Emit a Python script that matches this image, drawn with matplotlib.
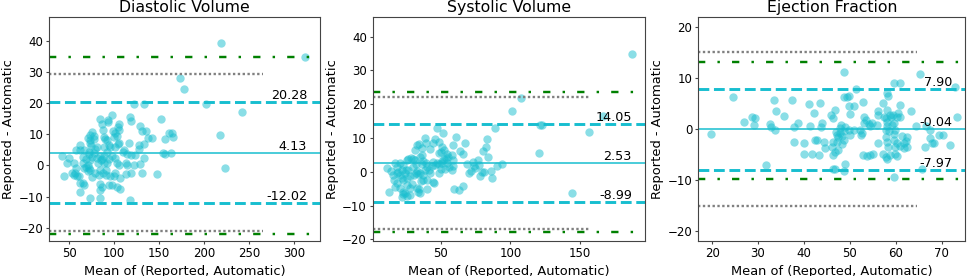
import matplotlib
matplotlib.use("Agg")
import matplotlib.pyplot as plt
import matplotlib.transforms as mtransforms

titles = ["Diastolic Volume", "Systolic Volume", "Ejection Fraction"]

# mean of (reported, automatic) and reported - automatic
dv_mean = [218.5, 312.0, 172.6, 177.0, 201.9, 133.3, 121.5, 242.0, 217.8, 223.3,
           151.9, 164.0, 160.4, 165.0, 156.7, 154.0, 155.9, 163.0, 148.0, 117.0,
           118.5, 128.9, 130.7, 135.6, 138.0, 141.9, 127.0, 128.0, 133.3, 132.6,
           128.9, 130.7, 121.5, 118.5, 114.0, 118.5, 123.3, 116.0, 110.4, 109.6,
           113.3, 114.0, 113.3, 117.8, 104.8, 103.7, 104.8, 103.0, 101.0, 104.8,
           103.7, 101.0, 97.4, 101.0, 103.0, 104.8, 101.0, 99.3, 106.0, 106.7,
           103.0, 97.4, 93.7, 97.4, 98.5, 99.3, 91.9, 93.7, 88.1, 89.6,
           92.6, 92.6, 84.4, 85.9, 87.0, 88.1, 91.9, 95.6, 93.7, 91.9,
           89.0, 86.3, 89.0, 91.1, 87.6, 90.3, 95.6, 84.4, 85.2, 80.7,
           81.5, 78.9, 77.0, 80.7, 77.8, 77.0, 73.3, 72.6, 75.2, 72.6,
           70.7, 74.1, 71.5, 71.5, 75.2, 73.3, 68.9, 70.7, 71.5, 70.7,
           72.6, 75.2, 78.9, 82.6, 84.4, 83.7, 86.3, 84.4, 83.7, 72.6,
           65.9, 65.2, 61.5, 62.2, 58.5, 60.4, 56.7, 57.8, 55.6, 62.2,
           61.5, 57.8, 65.9, 65.2, 49.3, 47.4, 41.9, 43.7, 65.2, 66.7,
           68.9, 53.0, 54.8]
dv_diff = [39.3, 34.7, 28.0, 24.4, 19.6, 19.8, 19.8, 17.3, 9.7, -0.8,
           15.0, 10.5, 10.5, 9.0, 8.6, 4.1, 3.7, 4.1, -2.7, 15.4,
           14.3, 12.6, 11.1, 11.0, 8.9, 8.7, 6.5, 5.2, 6.9, 2.3,
           0.5, -2.5, 0.1, -2.5, 3.7, 3.4, 3.4, 7.3, 5.0, 4.4,
           0.9, 0.0, -2.7, -11.0, 13.4, 12.2, 11.3, 9.4, 10.5, 7.3,
           6.9, 6.0, 3.1, 2.3, 0.7, 0.0, -2.5, -3.5, -4.1, -7.6,
           -6.9, -6.3, -6.2, 16.1, 11.1, 9.2, 8.1, 6.5, 9.2, 8.5,
           13.8, 14.5, 15.0, 13.2, 11.5, 6.0, 4.4, 6.0, 2.0, 0.9,
           3.1, 2.0, 0.7, -1.6, -2.5, -3.0, -3.3, 3.1, 1.8, 2.3,
           0.7, 5.2, 3.9, 6.0, 9.4, 8.4, 8.1, 7.3, 10.8, 9.7,
           8.7, 6.3, 4.4, 3.7, 2.8, 1.8, 2.0, 0.2, -0.9, -1.9,
           -1.6, -3.6, -2.5, -3.0, -1.4, -5.9, -7.0, -7.8, -10.4, -10.4,
           -6.2, -5.7, -8.6, -5.7, -3.5, -3.3, -2.5, -0.9, 0.7, 6.5,
           5.0, 5.0, 5.0, 2.6, 2.3, 0.9, 3.1, -3.5, 0.7, -0.9,
           -0.4, -2.5, -3.0]

sv_mean = [187.3, 107.7, 101.0, 166.7, 156.7, 121.3, 122.5, 120.8, 144.5, 89.0,
           83.0, 82.3, 80.1, 84.2, 73.0, 74.0, 74.6, 77.0, 77.8, 68.7,
           70.6, 71.5, 79.4, 81.1, 78.2, 85.9, 86.6, 90.2, 93.8, 67.5,
           63.9, 65.8, 65.8, 63.4, 59.6, 61.0, 59.1, 57.9, 58.6, 51.9,
           49.0, 47.1, 45.9, 44.3, 51.2, 52.4, 50.0, 48.8, 54.3, 55.5,
           52.4, 50.7, 54.3, 56.2, 53.1, 47.1, 45.9, 44.7, 43.5, 44.7,
           45.2, 42.3, 39.5, 36.4, 38.8, 34.7, 32.8, 31.6, 36.4, 35.2,
           37.6, 36.4, 39.5, 40.0, 40.0, 37.6, 35.6, 34.7, 35.2, 40.0,
           31.6, 29.9, 28.5, 26.8, 26.1, 32.3, 30.4, 33.3, 32.3, 34.0,
           30.9, 28.0, 26.8, 25.1, 24.4, 25.6, 23.2, 20.8, 22.0, 18.9,
           16.5, 18.4, 17.2, 20.8, 22.7, 22.0, 22.7, 24.4, 26.1, 28.0,
           13.2, 11.2, 14.1, 16.0, 17.2, 18.4, 20.8, 23.2, 22.0, 19.6,
           32.8, 34.0, 28.0, 25.6, 29.2, 35.2, 37.6, 38.8, 41.5, 42.5,
           48.8, 50.0, 48.8, 57.9, 58.6, 51.0, 53.5]
sv_diff = [34.9, 21.9, 18.0, 16.5, 11.9, 13.9, 13.9, 5.5, -6.2, 12.9,
           9.6, 7.4, 6.0, 4.5, 3.0, 1.7, 1.0, 3.5, 2.0, 2.3,
           -0.5, 0.3, 0.0, 0.0, -1.3, 0.3, -1.9, 1.7, 2.2, 8.6,
           6.0, 5.3, -4.2, -5.4, -5.2, 10.2, 7.9, 5.0, 3.5, 11.4,
           8.9, 12.9, 9.6, 8.4, 7.4, 6.4, 5.7, 5.5, 5.3, 4.5,
           3.7, 2.7, 2.5, 1.5, 0.7, 2.7, 2.0, 3.0, 1.7, -2.9,
           -3.2, 6.6, 8.4, 6.9, 9.9, 8.2, 7.9, 6.4, 5.0, 4.5,
           3.3, 2.3, 2.5, 1.5, -2.4, -2.4, -2.6, -5.2, -6.4, -5.2,
           3.5, 3.7, 4.0, 3.7, 3.5, 2.3, 1.5, 0.3, -0.5, -0.7,
           -1.0, -1.4, 0.5, 0.5, -0.5, -2.0, -2.4, -1.0, -2.0, -0.3,
           -2.4, -3.4, -4.4, -4.9, -5.9, -7.4, -6.6, -6.4, -7.2, -6.9,
           -5.9, 1.2, 0.3, -1.0, 2.5, 1.5, 2.5, 2.0, 0.5, 0.0,
           -4.9, -5.9, -4.9, -3.9, -3.6, -0.5, -1.0, 0.5, 0.5, -0.3,
           2.3, 0.8, -0.5, 0.5, 1.7, 3.2, 4.0]

ef_mean = [19.8, 24.6, 27.0, 28.7, 29.4, 29.1, 31.8, 32.5, 32.8, 33.6,
           33.4, 34.0, 35.6, 37.4, 37.8, 38.6, 37.9, 40.0, 40.0, 41.0,
           41.2, 41.7, 42.1, 42.5, 42.8, 43.4, 43.6, 43.9, 43.2, 44.4,
           44.6, 45.9, 46.3, 46.8, 46.3, 46.1, 46.3, 46.4, 46.8, 47.0,
           47.2, 47.5, 47.8, 48.0, 47.9, 48.3, 47.2, 47.5, 46.8, 48.6,
           48.8, 49.3, 49.7, 48.9, 48.8, 48.8, 48.3, 48.9, 48.8, 49.8,
           50.8, 50.1, 50.1, 49.7, 50.8, 52.2, 52.6, 52.4, 51.4, 52.8,
           53.0, 53.1, 53.6, 54.1, 54.4, 54.8, 52.8, 53.7, 54.4, 55.1,
           56.0, 56.0, 56.0, 55.9, 57.2, 58.0, 58.0, 58.2, 57.5, 57.8,
           58.0, 58.0, 57.9, 58.4, 57.8, 58.0, 58.2, 57.2, 57.8, 58.0,
           58.7, 58.7, 59.0, 59.4, 59.2, 59.5, 59.5, 59.6, 59.9, 60.2,
           59.5, 59.9, 60.2, 59.5, 59.9, 60.2, 60.4, 60.8, 60.8, 60.9,
           61.3, 60.9, 61.7, 61.7, 62.1, 62.4, 62.4, 63.3, 64.4, 65.3,
           66.6, 66.4, 65.7, 67.5, 67.9, 69.3, 70.2, 71.7, 72.9, 73.3,
           68.3, 67.5]
ef_diff = [-1.0, 6.4, 1.4, 2.4, 2.1, 0.8, -7.1, 1.0, 0.5, -0.1,
           5.8, 3.6, 2.6, 5.8, 0.5, 1.2, -2.5, -2.8, -4.9, 4.9,
           0.6, -4.8, 3.1, -2.2, -2.2, 5.1, 0.5, 1.2, -5.1, -2.5,
           -3.8, 2.8, 2.1, 3.7, -2.5, -3.5, -5.1, -7.9, -7.9, -0.5,
           -1.2, -1.5, 0.3, 0.8, -0.8, -1.4, -2.5, -4.1, -4.5, 11.3,
           6.4, 6.4, 6.5, 0.5, -0.3, -2.2, -3.0, -6.9, -8.2, 4.5,
           4.5, 3.0, -1.2, -0.2, -0.1, -0.1, -0.7, -1.2, 7.8, 5.4,
           2.4, 1.2, 1.8, 1.0, 0.6, 1.2, -5.1, -5.3, -5.1, -4.9,
           3.6, 2.7, -2.7, 0.8, 5.1, 3.7, 7.2, 6.5, 2.4, 2.1,
           1.4, 0.6, -0.1, -0.4, -1.5, -2.5, -3.5, -4.9, -5.4, -5.8,
           -5.1, 2.7, 2.4, 2.7, 0.8, 1.2, 9.0, -2.2, -3.5, -2.8,
           -0.9, -4.9, -5.3, -9.4, -0.1, 2.4, 3.2, 9.1, 4.7, 2.3,
           -1.4, -3.4, -2.8, -3.8, -2.3, -1.5, -3.5, 3.6, 0.6, 10.9,
           0.6, -3.6, -7.9, -1.8, -2.8, -1.2, -1.2, -3.1, 8.2, 2.4,
           -2.7, -0.2]

# bias and limits of agreement (labelled lines)
bias = [4.13, 2.53, -0.04]
loa_upper = [20.28, 14.05, 7.90]
loa_lower = [-12.02, -8.99, -7.97]
# reference limits (green dash-dot) and grey dotted limits
ref_upper = [34.7, 23.5, 13.2]
ref_lower = [-22.0, -17.9, -9.85]
grey_upper = [29.4, 22.2, 15.1]
grey_lower = [-20.9, -17.0, -15.1]
grey_xmax = [265, 157, 64.5]

means = [dv_mean, sv_mean, ef_mean]
diffs = [dv_diff, sv_diff, ef_diff]
xlims = [(27.8, 329), (1.4, 196.7), (17, 75.1)]
ylims = [(-24.2, 47.5), (-20.5, 45.7), (-22, 22)]
xticks = [[50, 100, 150, 200, 250, 300], [50, 100, 150], [20, 30, 40, 50, 60, 70]]
yticks = [[-20, -10, 0, 10, 20, 30, 40], [-20, -10, 0, 10, 20, 30, 40], [-20, -10, 0, 10, 20]]

cyan = "#17becf"

plt.rcParams["font.family"] = "DejaVu Sans"
plt.rcParams["font.size"] = 9.4

fig = plt.figure(figsize=(9.7, 2.76), dpi=100)
lefts = [49.3, 373, 698.3]
widths = [271, 272, 267]

for i in range(3):
    ax = fig.add_axes([lefts[i] / 970, 35 / 276, widths[i] / 970, 223.7 / 276])
    ax.scatter(means[i], diffs[i], s=36, color=cyan, alpha=0.5, linewidths=0)
    ax.axhline(bias[i], color=cyan, linewidth=1.1)
    for val in (loa_upper[i], loa_lower[i]):
        ax.axhline(val, color=cyan, linewidth=2.1, linestyle="--")
    for val in (ref_upper[i], ref_lower[i]):
        ax.axhline(val, color="green", linewidth=1.75, linestyle="-.", dashes=(3, 5, 1, 5))
    ax.hlines([grey_upper[i], grey_lower[i]], xlims[i][0], grey_xmax[i],
              color="grey", linewidth=1.7, linestyles=(0, (1, 1.05)))

    trans = mtransforms.blended_transform_factory(ax.transAxes, ax.transData)
    for val in (loa_upper[i], bias[i], loa_lower[i]):
        ax.text(0.952, val, f"{val:.2f}", transform=trans, ha="right", va="bottom", fontsize=9.2)

    ax.set_xlim(xlims[i])
    ax.set_ylim(ylims[i])
    ax.set_xticks(xticks[i])
    ax.set_yticks(yticks[i])
    ax.tick_params(axis="both", length=2.4, labelsize=8.5, color="#444444")
    ax.tick_params(axis="x", pad=2.2)
    ax.tick_params(axis="y", pad=2)
    ax.set_title(titles[i], fontsize=11.3, pad=4)
    ax.set_xlabel("Mean of (Reported, Automatic)", labelpad=3)
    ax.set_ylabel("Reported - Automatic", labelpad=2.4)
    for spine in ax.spines.values():
        spine.set_color("#444444")

fig.savefig("out.png", dpi=100)
